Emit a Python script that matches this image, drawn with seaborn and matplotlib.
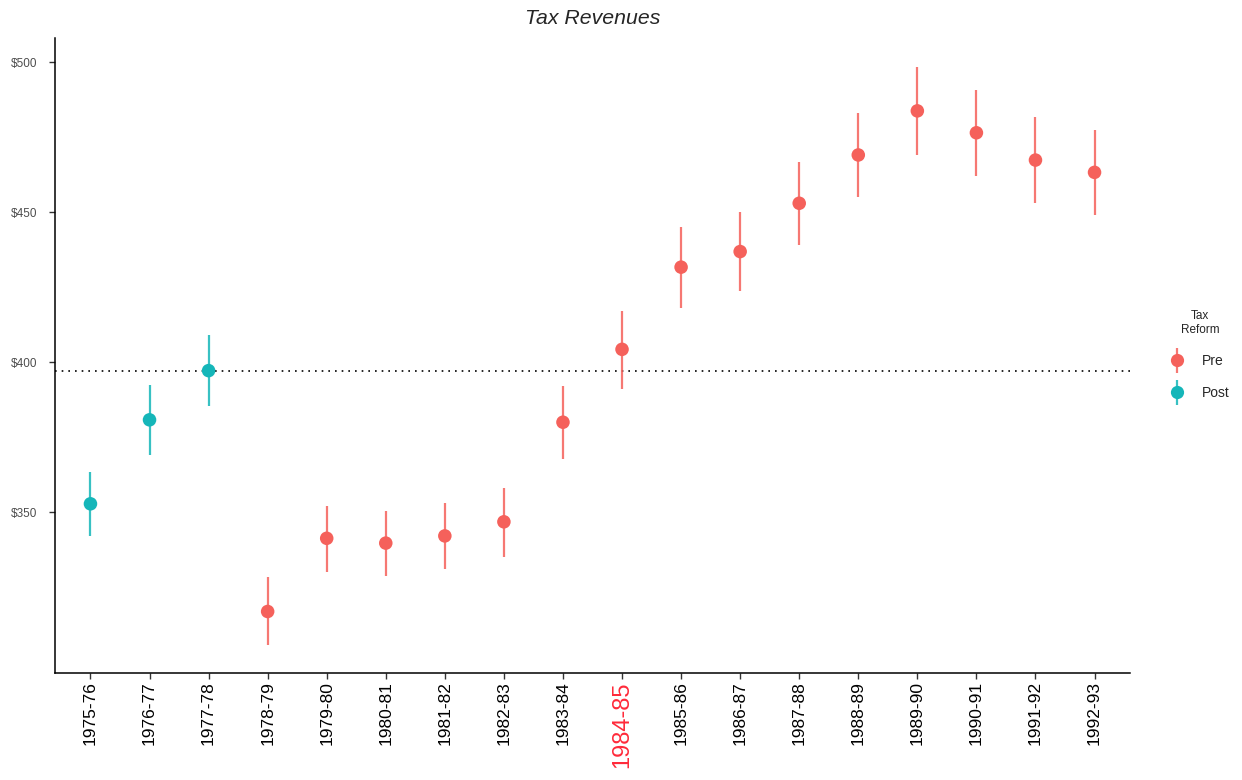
import matplotlib
matplotlib.use("Agg")
import matplotlib.pyplot as plt
from matplotlib.lines import Line2D
from matplotlib.legend_handler import HandlerTuple
import seaborn as sns
import pandas as pd

# Fiscal years and revenue estimates with their interval bounds
years = ['1975-76', '1976-77', '1977-78', '1978-79', '1979-80', '1980-81',
         '1981-82', '1982-83', '1983-84', '1984-85', '1985-86', '1986-87',
         '1987-88', '1988-89', '1989-90', '1990-91', '1991-92', '1992-93']
revenue = [352.8, 380.8, 397.2, 316.9, 341.3, 339.7, 342.1, 346.8, 380.0,
           404.3, 431.7, 436.9, 453.0, 469.1, 483.8, 476.5, 467.4, 463.3]
lower = [342.1, 369.1, 385.4, 305.8, 330.2, 328.8, 331.1, 335.2, 367.8,
         391.2, 418.0, 423.7, 439.0, 455.0, 469.0, 462.0, 453.0, 449.1]
upper = [363.5, 392.4, 409.1, 328.3, 352.2, 350.4, 353.2, 358.0, 392.1,
         417.2, 445.1, 450.0, 466.8, 483.2, 498.3, 490.8, 481.7, 477.3]
reform = ['Post'] * 3 + ['Pre'] * 15
reference_level = 397.2
highlight_year = '1984-85'
y_ticks = [350, 400, 450, 500]

palette = {'Pre': '#F5615B', 'Post': '#15B6B9'}

df = pd.DataFrame({'year': years, 'revenue': revenue, 'lower': lower,
                   'upper': upper, 'reform': reform})

sns.set_theme(style='ticks')
plt.rcParams['font.family'] = ['Liberation Sans', 'DejaVu Sans']

fig = plt.figure(figsize=(12.42, 7.8), dpi=100)
fig.patch.set_facecolor('white')
ax = fig.add_axes([0.0443, 0.1372, 0.8655, 0.8141])
ax.set_facecolor('white')

# interval segments
for grp, sub in df.groupby('reform'):
    ax.vlines(sub['year'], sub['lower'], sub['upper'],
              color=palette[grp], lw=1.6, alpha=0.85, zorder=2)

sns.scatterplot(data=df, x='year', y='revenue', hue='reform',
                palette=palette, s=95, edgecolor='none', linewidth=0,
                legend=False, ax=ax, zorder=3)

ax.axhline(reference_level, color='black', ls=(0, (1, 3)), lw=1.2, zorder=1)

ax.set_xlim(-0.6, len(years) - 1 + 0.6)
ax.set_ylim(296.4, 508.1)
ax.set_yticks(y_ticks)
ax.set_yticklabels([f'${v}' for v in y_ticks])
ax.set_xlabel('')
ax.set_ylabel('')

for side in ['top', 'right']:
    ax.spines[side].set_visible(False)
for side in ['left', 'bottom']:
    ax.spines[side].set_linewidth(1.1)
    ax.spines[side].set_color('black')

ax.tick_params(axis='both', which='both', direction='out', length=4,
               width=1, color='#333333', top=False, right=False)
ax.tick_params(axis='y', labelsize=8.5, labelcolor='#4D4D4D', pad=8.5)
ax.tick_params(axis='x', labelsize=12.5, labelcolor='black', pad=2)
ax.minorticks_off()
ax.grid(False)

for lbl in ax.get_xticklabels():
    lbl.set_rotation(90)
    lbl.set_va('top')
    lbl.set_ha('center')
    if lbl.get_text() == highlight_year:
        lbl.set_color('#FF2A3A')
        lbl.set_fontsize(17)

ax.set_title('Tax Revenues', fontsize=15.3, style='italic', pad=10)

# legend glyphs: point with a vertical interval through it
handles = []
for grp in ['Pre', 'Post']:
    bar = Line2D([], [], ls='none', marker='|', markersize=18,
                 markeredgewidth=1.6, color=palette[grp], alpha=0.85)
    dot = Line2D([], [], ls='none', marker='o', markersize=9.5,
                 color=palette[grp], markeredgewidth=0)
    handles.append((bar, dot))

leg = fig.legend(handles, ['Pre', 'Post'], title='Tax\nReform',
                 handler_map={tuple: HandlerTuple(ndivide=1)},
                 loc='center left', bbox_to_anchor=(0.932, 0.545),
                 frameon=False, fontsize=10, title_fontsize=8.5,
                 handlelength=1.0, handletextpad=1.3, labelspacing=1.3)
leg.get_title().set_multialignment('center')

fig.savefig('out.png', dpi=100, facecolor='white')
